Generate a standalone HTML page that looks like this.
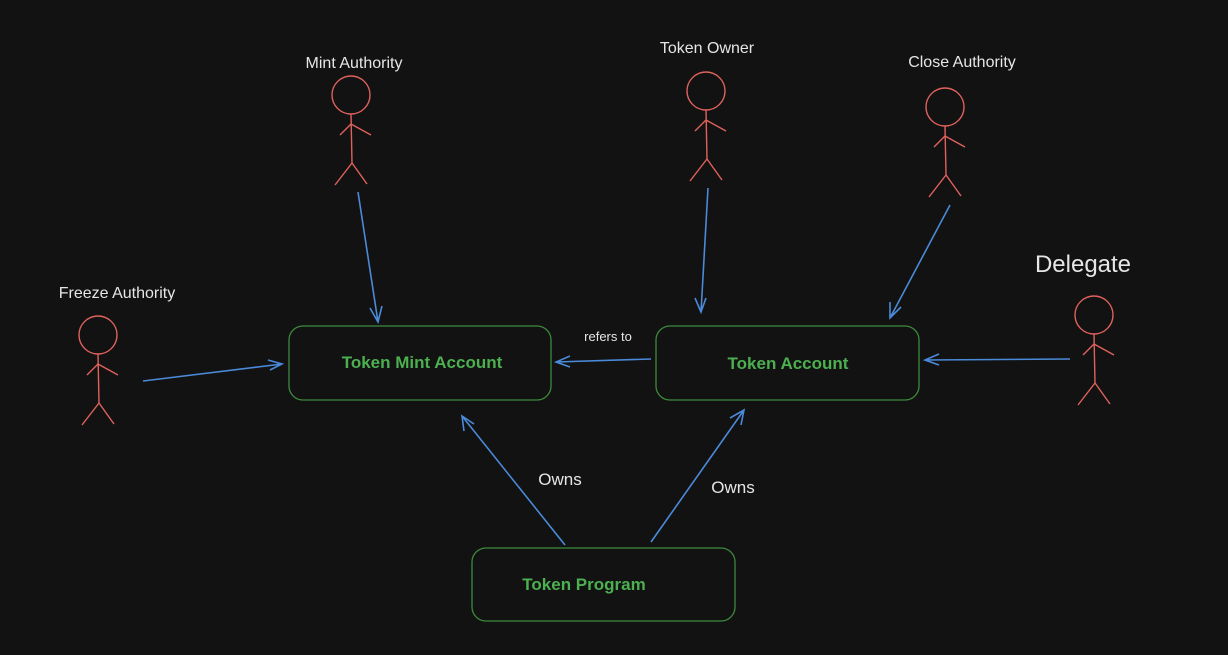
<!DOCTYPE html>
<html><head><meta charset="utf-8"><style>
html,body{margin:0;padding:0;background:#121212;}
svg{display:block;}
text{font-family:"Liberation Sans",sans-serif;}
</style></head><body>
<svg width="1228" height="655" viewBox="0 0 1228 655" xmlns="http://www.w3.org/2000/svg">
<rect width="1228" height="655" fill="#121212"/>
<defs>
<g id="fig" stroke="#e0625c" stroke-width="1.4" fill="none">
<circle cx="0" cy="0" r="19"/>
<line x1="0" y1="19" x2="1" y2="68"/>
<polyline points="-11,40 0,29 20,40"/>
<polyline points="-16,90 1,68 16,89"/>
</g>
</defs>
<g fill="#e6e6e6" font-size="16" text-anchor="middle">
<text x="354" y="68">Mint Authority</text>
<text x="707" y="53">Token Owner</text>
<text x="962" y="67">Close Authority</text>
<text x="117" y="298">Freeze Authority</text>
<text x="1083" y="272" font-size="24">Delegate</text>
<text x="608" y="341" font-size="13">refers to</text>
<text x="560" y="485" font-size="17">Owns</text>
<text x="733" y="493" font-size="17">Owns</text>
</g>
<use href="#fig" x="351" y="95"/>
<use href="#fig" x="706" y="91"/>
<use href="#fig" x="945" y="107"/>
<use href="#fig" x="98" y="335"/>
<use href="#fig" x="1094" y="315"/>
<g fill="none" stroke="#3d8a3d" stroke-width="1.3">
<rect x="289" y="326" width="262" height="74" rx="14"/>
<rect x="656" y="326" width="263" height="74" rx="14"/>
<rect x="472" y="548" width="263" height="73" rx="14"/>
</g>
<g fill="#4caf50" font-size="17" text-anchor="middle" font-weight="bold">
<text x="422" y="368">Token Mint Account</text>
<text x="788" y="369">Token Account</text>
<text x="584" y="590">Token Program</text>
</g>
<g stroke="#4a8ad8" stroke-width="1.6" fill="none">
<path d="M358,192 L378,322 M370,308 L378,322 L382,306"/>
<path d="M708,188 L701,312 M695,298 L701,312 L706,298"/>
<path d="M950,205 L890,318 M890,302 L890,318 L901,307"/>
<path d="M143,381 L282,364 M268,360 L282,364 L270,370"/>
<path d="M1070,359 L925,360 M939,354 L925,360 L939,365"/>
<path d="M651,359 L556,362 M570,356 L556,362 L570,367"/>
<path d="M565,545 L462,416 M464,431 L462,416 L474,424"/>
<path d="M651,542 L744,410 M730,418 L744,410 L741,425"/>
</g>
</svg>
</body></html>
